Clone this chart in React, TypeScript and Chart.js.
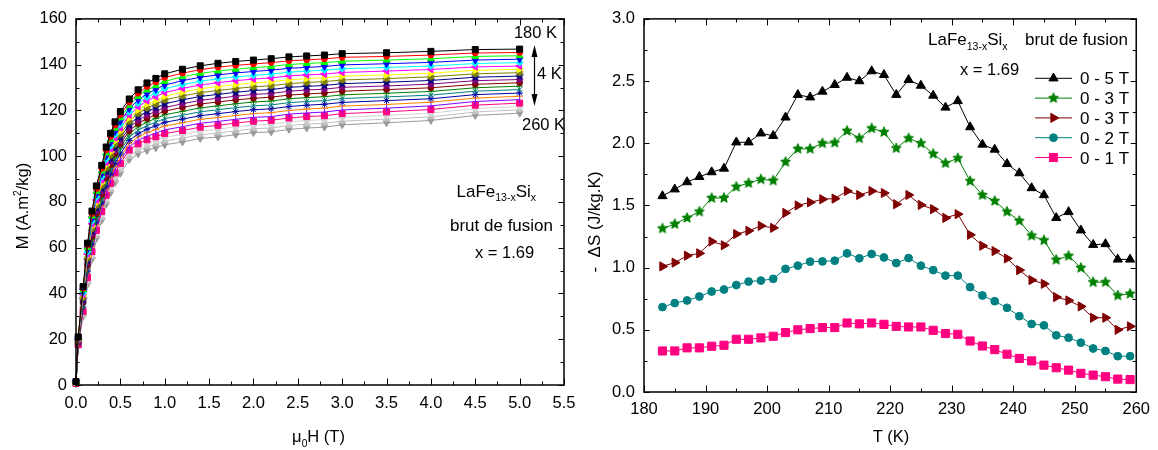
import React, { useEffect, useRef } from 'react';
import { Chart, registerables } from 'chart.js';

Chart.register(...registerables);

const FONT = '"Liberation Sans", Arial, Helvetica, sans-serif';
const FS = 16.5;
const FA = 17;

// ---------- Left panel: M(H) isotherms ----------
const FIELD_T = [0, 0.025, 0.08, 0.13, 0.18, 0.23, 0.29, 0.34, 0.39, 0.44, 0.5, 0.6, 0.7, 0.8, 0.9, 1.0, 1.2, 1.4, 1.6, 1.8, 2.0, 2.2, 2.4, 2.6, 2.8, 3.0, 3.5, 4.0, 4.5, 5.0];
const TEMPS_K = [180, 184, 188, 192, 196, 200, 204, 208, 212, 216, 220, 224, 228, 232, 236, 240, 244, 248, 252, 260];

const M_180 = [1.5, 21, 43, 62, 76, 87, 96, 104, 110, 115, 119.5, 125, 129, 132, 134, 136, 138, 139.5, 140.6, 141.4, 142, 142.6, 143.4, 143.8, 144.2, 144.8, 145.2, 145.8, 146.6, 146.8];
const M_184 = [1.4, 20.8, 42.3, 61.1, 74.9, 85.8, 94.7, 102.7, 108.6, 113.6, 118.1, 123.6, 127.5, 130.4, 132.4, 134.4, 136.3, 137.8, 138.9, 139.7, 140.3, 140.9, 141.7, 142.1, 142.5, 143.2, 143.6, 144.2, 145.1, 145.3];
const M_188 = [1.4, 20.6, 41.6, 60.1, 73.8, 84.6, 93.5, 101.4, 107.3, 112.2, 116.7, 122.2, 126.1, 128.9, 130.8, 132.7, 134.7, 136.2, 137.2, 138.0, 138.7, 139.2, 140.1, 140.5, 140.9, 141.5, 142.0, 142.6, 143.6, 143.9];
const M_192 = [1.3, 20.4, 41.0, 59.2, 72.7, 83.4, 92.2, 100.1, 105.9, 110.8, 115.2, 120.8, 124.6, 127.3, 129.2, 131.1, 133.0, 134.5, 135.5, 136.4, 137.0, 137.6, 138.4, 138.8, 139.2, 139.9, 140.4, 141.0, 142.0, 142.4];
const M_196 = [1.3, 20.2, 40.3, 58.2, 71.6, 82.2, 91.0, 98.7, 104.5, 109.4, 113.8, 119.4, 123.1, 125.8, 127.6, 129.5, 131.3, 132.8, 133.8, 134.7, 135.3, 135.9, 136.7, 137.2, 137.6, 138.2, 138.8, 139.4, 140.5, 140.9];
const M_200 = [1.2, 20.0, 39.6, 57.3, 70.5, 80.9, 89.7, 97.4, 103.2, 108.0, 112.4, 118.0, 121.6, 124.2, 126.0, 127.8, 129.6, 131.1, 132.1, 133.0, 133.7, 134.2, 135.1, 135.5, 135.9, 136.6, 137.2, 137.9, 139.0, 139.4];
const M_204 = [1.2, 19.7, 38.9, 56.3, 69.4, 79.7, 88.4, 96.1, 101.8, 106.6, 111.0, 116.6, 120.2, 122.7, 124.4, 126.2, 128.0, 129.5, 130.4, 131.3, 132.0, 132.5, 133.4, 133.9, 134.3, 135.0, 135.5, 136.3, 137.5, 138.0];
const M_208 = [1.1, 19.5, 38.2, 55.4, 68.3, 78.5, 87.2, 94.8, 100.4, 105.2, 109.6, 115.2, 118.7, 121.1, 122.8, 124.6, 126.3, 127.8, 128.7, 129.6, 130.3, 130.8, 131.7, 132.2, 132.6, 133.3, 133.9, 134.7, 136.0, 136.5];
const M_212 = [1.1, 19.3, 37.5, 54.4, 67.2, 77.3, 85.9, 93.5, 99.1, 103.8, 108.1, 113.8, 117.2, 119.6, 121.2, 122.9, 124.6, 126.1, 127.0, 127.9, 128.7, 129.1, 130.1, 130.5, 130.9, 131.7, 132.3, 133.1, 134.5, 135.0];
const M_216 = [1.0, 19.1, 36.8, 53.5, 66.1, 76.1, 84.6, 92.2, 97.7, 102.4, 106.7, 112.4, 115.7, 118.0, 119.6, 121.3, 122.9, 124.4, 125.3, 126.2, 127.0, 127.4, 128.4, 128.9, 129.3, 130.1, 130.7, 131.5, 133.0, 133.5];
const M_220 = [1.0, 18.9, 36.2, 52.5, 65.0, 74.9, 83.4, 90.8, 96.3, 101.1, 105.3, 111.1, 114.3, 116.5, 118.1, 119.7, 121.3, 122.8, 123.7, 124.6, 125.3, 125.8, 126.7, 127.2, 127.6, 128.4, 129.1, 129.9, 131.4, 132.1];
const M_224 = [0.9, 18.7, 35.5, 51.6, 63.8, 73.7, 82.1, 89.5, 95.0, 99.7, 103.9, 109.7, 112.8, 114.9, 116.5, 118.1, 119.6, 121.1, 122.0, 122.9, 123.7, 124.1, 125.1, 125.6, 126.0, 126.8, 127.5, 128.3, 129.9, 130.6];
const M_228 = [0.9, 18.5, 34.8, 50.6, 62.7, 72.5, 80.8, 88.2, 93.6, 98.3, 102.5, 108.3, 111.3, 113.4, 114.9, 116.4, 117.9, 119.4, 120.3, 121.2, 122.0, 122.4, 123.4, 123.9, 124.3, 125.2, 125.9, 126.7, 128.4, 129.1];
const M_232 = [0.8, 18.3, 34.1, 49.7, 61.6, 71.3, 79.6, 86.9, 92.2, 96.9, 101.0, 106.9, 109.8, 111.8, 113.3, 114.8, 116.2, 117.7, 118.6, 119.5, 120.3, 120.7, 121.7, 122.3, 122.7, 123.5, 124.3, 125.1, 126.9, 127.6];
const M_236 = [0.8, 18.1, 33.4, 48.7, 60.5, 70.1, 78.3, 85.6, 90.8, 95.5, 99.6, 105.5, 108.4, 110.3, 111.7, 113.2, 114.6, 116.1, 116.9, 117.8, 118.6, 119.0, 120.0, 120.6, 121.0, 121.9, 122.6, 123.6, 125.4, 126.2];
const M_240 = [0.7, 17.9, 32.7, 47.8, 59.4, 68.9, 77.1, 84.3, 89.5, 94.1, 98.2, 104.1, 106.9, 108.7, 110.1, 111.5, 112.9, 114.4, 115.2, 116.1, 117.0, 117.3, 118.4, 118.9, 119.3, 120.2, 121.0, 122.0, 123.9, 124.7];
const M_244 = [0.7, 17.6, 32.1, 46.9, 58.3, 67.6, 75.8, 82.9, 88.1, 92.7, 96.8, 102.7, 105.4, 107.2, 108.5, 109.9, 111.2, 112.7, 113.5, 114.5, 115.3, 115.7, 116.7, 117.3, 117.7, 118.6, 119.4, 120.4, 122.3, 123.2];
const M_248 = [0.6, 17.4, 31.4, 45.9, 57.2, 66.4, 74.5, 81.6, 86.7, 91.3, 95.3, 101.3, 103.9, 105.6, 106.9, 108.3, 109.5, 111.0, 111.8, 112.8, 113.6, 114.0, 115.0, 115.6, 116.0, 117.0, 117.8, 118.8, 120.8, 121.7];
const M_252 = [0.6, 17.2, 30.7, 45.0, 56.1, 65.2, 73.3, 80.3, 85.4, 89.9, 93.9, 99.9, 102.5, 104.1, 105.3, 106.6, 107.9, 109.4, 110.1, 111.1, 112.0, 112.3, 113.4, 114.0, 114.4, 115.3, 116.2, 117.2, 119.3, 120.3];
const M_260 = [0.5, 17, 30, 44, 55, 64, 72, 79, 84, 88.5, 92.5, 98.5, 101, 102.5, 103.7, 105, 106.2, 107.7, 108.4, 109.4, 110.3, 110.6, 111.7, 112.3, 112.7, 113.7, 114.6, 115.6, 117.8, 118.8];

const M_SERIES = [M_180, M_184, M_188, M_192, M_196, M_200, M_204, M_208, M_212, M_216, M_220, M_224, M_228, M_232, M_236, M_240, M_244, M_248, M_252, M_260];
const LEFT_COLORS = ['#000000', '#FF0000', '#00FF00', '#0000FF', '#00FFFF', '#FF00FF', '#FFFF00', '#808000', '#000080', '#800080', '#800000', '#008000', '#008080', '#0000A0', '#FF8000', '#8000FF', '#FF0080', '#D4D4D4', '#C0C0C0', '#999999'];
const LEFT_SHAPES = ['rect', 'circle', 'triangle', 'triDown', 'rectRot', 'triLeft', 'triRight', 'hexagon', 'star5', 'pentagon', 'circle', 'cross', 'crossRot', 'star', 'line', 'vline', 'rect', 'circle', 'triangle', 'triDown'];

// ---------- Right panel: -ΔS(T) ----------
const T_K = [183, 185, 187, 189, 191, 193, 195, 197, 199, 201, 203, 205, 207, 209, 211, 213, 215, 217, 219, 221, 223, 225, 227, 229, 231, 233, 235, 237, 239, 241, 243, 245, 247, 249, 251, 253, 255, 257, 259];
const DS_0_5T = [1.576, 1.63, 1.688, 1.73, 1.768, 1.797, 2.008, 2.008, 2.08, 2.06, 2.208, 2.39, 2.37, 2.416, 2.47, 2.528, 2.5, 2.58, 2.55, 2.39, 2.51, 2.464, 2.384, 2.288, 2.34, 2.13, 1.99, 1.95, 1.834, 1.76, 1.64, 1.584, 1.4, 1.448, 1.3, 1.184, 1.19, 1.066, 1.066];
const DS_0_3T_A = [1.315, 1.35, 1.4, 1.45, 1.56, 1.56, 1.65, 1.68, 1.71, 1.7, 1.85, 1.955, 1.955, 2.0, 2.005, 2.1, 2.04, 2.12, 2.09, 1.96, 2.04, 2.0, 1.915, 1.84, 1.88, 1.696, 1.584, 1.536, 1.45, 1.376, 1.257, 1.22, 1.063, 1.095, 0.998, 0.883, 0.883, 0.776, 0.79];
const DS_0_3T_B = [1.01, 1.04, 1.096, 1.115, 1.21, 1.18, 1.27, 1.296, 1.336, 1.32, 1.44, 1.5, 1.525, 1.55, 1.555, 1.616, 1.584, 1.616, 1.6, 1.51, 1.584, 1.504, 1.47, 1.4, 1.43, 1.264, 1.176, 1.133, 1.074, 0.98, 0.9, 0.87, 0.763, 0.736, 0.688, 0.597, 0.597, 0.5, 0.528];
const DS_0_2T = [0.683, 0.715, 0.736, 0.768, 0.808, 0.824, 0.86, 0.888, 0.896, 0.91, 0.99, 1.016, 1.048, 1.05, 1.056, 1.115, 1.075, 1.11, 1.082, 1.037, 1.077, 1.016, 0.98, 0.936, 0.936, 0.843, 0.776, 0.73, 0.677, 0.61, 0.547, 0.536, 0.456, 0.437, 0.397, 0.35, 0.33, 0.288, 0.288];
const DS_0_1T = [0.33, 0.33, 0.355, 0.355, 0.368, 0.376, 0.424, 0.424, 0.435, 0.448, 0.478, 0.5, 0.51, 0.518, 0.518, 0.555, 0.548, 0.555, 0.544, 0.528, 0.523, 0.523, 0.496, 0.47, 0.464, 0.41, 0.37, 0.341, 0.304, 0.27, 0.25, 0.216, 0.195, 0.176, 0.15, 0.136, 0.123, 0.104, 0.1];
const RIGHT_LABELS = ['0 - 5 T', '0 - 3 T', '0 - 3 T', '0 - 2 T', '0 - 1 T'];
const RIGHT_SERIES = [DS_0_5T, DS_0_3T_A, DS_0_3T_B, DS_0_2T, DS_0_1T];
const RIGHT_COLORS = ['#000000', '#008000', '#800000', '#008080', '#FF0080'];
const RIGHT_SHAPES = ['triangle', 'star5', 'triRight', 'circle', 'rect'];

// ---------- helpers ----------
function polyCanvas(kind: string, color: string, r: number) {
  const size = Math.ceil(r * 2 + 3);
  const c = document.createElement('canvas');
  c.width = size;
  c.height = size;
  const g = c.getContext('2d')!;
  const cx = size / 2, cy = size / 2;
  g.fillStyle = color;
  g.strokeStyle = color;
  g.lineWidth = 1;
  g.beginPath();
  if (kind === 'star5') {
    for (let i = 0; i < 10; i++) {
      const a = -Math.PI / 2 + (i * Math.PI) / 5;
      const rr = i % 2 === 0 ? r : r * 0.45;
      const px = cx + rr * Math.cos(a), py = cy + rr * Math.sin(a);
      if (i === 0) g.moveTo(px, py); else g.lineTo(px, py);
    }
  } else {
    const n = kind === 'pentagon' ? 5 : 6;
    for (let i = 0; i < n; i++) {
      const a = -Math.PI / 2 + (i * 2 * Math.PI) / n;
      const px = cx + r * Math.cos(a), py = cy + r * Math.sin(a);
      if (i === 0) g.moveTo(px, py); else g.lineTo(px, py);
    }
  }
  g.closePath();
  g.fill();
  g.stroke();
  return c;
}

function pointOpts(shape: string, color: string, base: number) {
  let pointStyle: any = shape;
  let rotation = 0;
  let radius = base;
  if (shape === 'triDown') { pointStyle = 'triangle'; rotation = 180; radius = base * 1.15; }
  else if (shape === 'triLeft') { pointStyle = 'triangle'; rotation = 270; radius = base * 1.15; }
  else if (shape === 'triRight') { pointStyle = 'triangle'; rotation = 90; radius = base * 1.15; }
  else if (shape === 'triangle') { radius = base * 1.15; }
  else if (shape === 'vline') { pointStyle = 'line'; rotation = 90; }
  else if (shape === 'rect') { radius = base * 1.25; }
  else if (shape === 'circle') { radius = base * 0.85; }
  else if (shape === 'star5' || shape === 'pentagon' || shape === 'hexagon') {
    pointStyle = polyCanvas(shape, color, shape === 'star5' ? base * 1.15 : base * 0.95);
  }
  return { pointStyle, pointRotation: rotation, pointRadius: radius };
}

type Seg = { t: string; sub?: boolean; sup?: boolean };
function drawRich(ctx: CanvasRenderingContext2D, segs: Seg[], x: number, y: number, size: number, align: string) {
  const widths = segs.map((s) => {
    ctx.font = `${s.sub || s.sup ? size * 0.62 : size}px ${FONT}`;
    return ctx.measureText(s.t).width;
  });
  const total = widths.reduce((a, b) => a + b, 0);
  let cx = align === 'left' ? x : align === 'center' ? x - total / 2 : x - total;
  ctx.textAlign = 'left';
  ctx.textBaseline = 'alphabetic';
  segs.forEach((s, i) => {
    ctx.font = `${s.sub || s.sup ? size * 0.62 : size}px ${FONT}`;
    const dy = s.sub ? size * 0.28 : s.sup ? -size * 0.42 : 0;
    ctx.fillText(s.t, cx, y + dy);
    cx += widths[i];
  });
}

function framePlugin(xStep: number, xMinor: number, yStep: number, yMinor: number) {
  return {
    id: 'frame',
    afterDraw(chart: any) {
      const { ctx, chartArea: a, scales } = chart;
      const xs = scales.x, ys = scales.y;
      ctx.save();
      ctx.strokeStyle = '#000';
      ctx.lineWidth = 1;
      const nx = Math.round((xs.max - xs.min) / xMinor);
      const kx = Math.round(xStep / xMinor);
      for (let i = 0; i <= nx; i++) {
        const px = Math.round(xs.getPixelForValue(xs.min + i * xMinor)) + 0.5;
        const len = i % kx === 0 ? 6.5 : 3.5;
        ctx.beginPath();
        ctx.moveTo(px, a.bottom);
        ctx.lineTo(px, a.bottom - len);
        ctx.moveTo(px, a.top);
        ctx.lineTo(px, a.top + len);
        ctx.stroke();
      }
      const ny = Math.round((ys.max - ys.min) / yMinor);
      const ky = Math.round(yStep / yMinor);
      for (let i = 0; i <= ny; i++) {
        const py = Math.round(ys.getPixelForValue(ys.min + i * yMinor)) + 0.5;
        const len = i % ky === 0 ? 5.5 : 3.5;
        ctx.beginPath();
        ctx.moveTo(a.left, py);
        ctx.lineTo(a.left + len, py);
        ctx.moveTo(a.right, py);
        ctx.lineTo(a.right - len, py);
        ctx.stroke();
      }
      ctx.lineWidth = 1.5;
      ctx.strokeRect(a.left, a.top, a.right - a.left, a.bottom - a.top);
      ctx.restore();
    },
  };
}

const leftText = {
  id: 'leftText',
  afterDraw(chart: any) {
    const ctx = chart.ctx as CanvasRenderingContext2D;
    ctx.save();
    ctx.fillStyle = '#000';
    ctx.save();
    ctx.translate(27.5, 206);
    ctx.rotate(-Math.PI / 2);
    drawRich(ctx, [{ t: 'M (A.m' }, { t: '2', sup: true }, { t: '/kg)' }], 0, 0, FS, 'center');
    ctx.restore();
    drawRich(ctx, [{ t: 'μ' }, { t: '0', sub: true }, { t: 'H (T)' }], 318.5, 442, FS, 'center');
    drawRich(ctx, [{ t: '180 K' }], 557, 37.5, FS, 'right');
    drawRich(ctx, [{ t: '4 K' }], 537, 78.5, FS, 'left');
    drawRich(ctx, [{ t: '260 K' }], 522, 130, FS, 'left');
    drawRich(ctx, [{ t: 'LaFe' }, { t: '13-x', sub: true }, { t: 'Si' }, { t: 'x', sub: true }], 456.5, 196.5, FA, 'left');
    drawRich(ctx, [{ t: 'brut de fusion' }], 450, 230.5, FA, 'left');
    drawRich(ctx, [{ t: 'x = 1.69' }], 475, 258, FS, 'left');
    // double arrow
    ctx.strokeStyle = '#000';
    ctx.lineWidth = 1.2;
    ctx.beginPath();
    ctx.moveTo(534.5, 52);
    ctx.lineTo(534.5, 99);
    ctx.stroke();
    ctx.beginPath();
    ctx.moveTo(534.5, 45);
    ctx.lineTo(531.5, 57);
    ctx.lineTo(537.5, 57);
    ctx.closePath();
    ctx.fill();
    ctx.beginPath();
    ctx.moveTo(534.5, 106);
    ctx.lineTo(531.5, 94);
    ctx.lineTo(537.5, 94);
    ctx.closePath();
    ctx.fill();
    ctx.restore();
  },
};

function drawMarker(ctx: CanvasRenderingContext2D, ds: any, x: number, y: number) {
  const st = ds.pointStyle;
  const r = ds.pointRadius;
  ctx.save();
  ctx.fillStyle = ds.backgroundColor;
  ctx.strokeStyle = ds.borderColor;
  ctx.lineWidth = 1;
  if (st instanceof HTMLCanvasElement) {
    ctx.drawImage(st, x - st.width / 2, y - st.height / 2);
  } else {
    ctx.translate(x, y);
    ctx.rotate(((ds.pointRotation || 0) * Math.PI) / 180);
    ctx.beginPath();
    if (st === 'triangle') {
      for (let i = 0; i < 3; i++) {
        const a = (i * 2 * Math.PI) / 3;
        const px = Math.sin(a) * r, py = -Math.cos(a) * r;
        if (i === 0) ctx.moveTo(px, py); else ctx.lineTo(px, py);
      }
      ctx.closePath();
    } else if (st === 'circle') {
      ctx.arc(0, 0, r, 0, Math.PI * 2);
    } else if (st === 'rect') {
      const s = r * Math.SQRT1_2;
      ctx.rect(-s, -s, 2 * s, 2 * s);
    }
    ctx.fill();
    ctx.stroke();
  }
  ctx.restore();
}

const rightText = {
  id: 'rightText',
  afterDraw(chart: any) {
    const ctx = chart.ctx as CanvasRenderingContext2D;
    const ox = 580; // canvas offset on the page
    ctx.save();
    ctx.fillStyle = '#000';
    ctx.save();
    ctx.translate(599.5 - ox, 222);
    ctx.rotate(-Math.PI / 2);
    drawRich(ctx, [{ t: '-  ΔS (J/kg.K)' }], 0, 0, FA, 'center');
    ctx.restore();
    drawRich(ctx, [{ t: 'T (K)' }], 891 - ox, 442, FS, 'center');
    drawRich(ctx, [{ t: 'LaFe' }, { t: '13-x', sub: true }, { t: 'Si' }, { t: 'x', sub: true }], 928 - ox, 45, FA, 'left');
    drawRich(ctx, [{ t: 'brut de fusion' }], 1025 - ox, 45, FA, 'left');
    drawRich(ctx, [{ t: 'x = 1.69' }], 960 - ox, 75, FS, 'left');
    // legend
    const rows = [78.3, 98.1, 117.9, 137.7, 157.5];
    chart.data.datasets.forEach((ds: any, i: number) => {
      const y = rows[i];
      ctx.strokeStyle = ds.borderColor;
      ctx.lineWidth = 1;
      ctx.beginPath();
      ctx.moveTo(1035 - ox, y);
      ctx.lineTo(1072 - ox, y);
      ctx.stroke();
      drawMarker(ctx, ds, 1053.5 - ox, y);
      ctx.fillStyle = '#000';
      drawRich(ctx, [{ t: ds.label }], 1080 - ox, y + FA * 0.36, FA, 'left');
    });
    ctx.restore();
  },
};

function tickFont() {
  return { family: FONT, size: FS };
}

export default function App() {
  const leftRef = useRef<HTMLCanvasElement>(null);
  const rightRef = useRef<HTMLCanvasElement>(null);

  useEffect(() => {
    const leftDatasets = M_SERIES.map((arr, i) => {
      const p = pointOpts(LEFT_SHAPES[i], LEFT_COLORS[i], 3.4);
      return {
        label: `${TEMPS_K[i]} K`,
        data: FIELD_T.map((h, k) => ({ x: h, y: arr[k] })),
        borderColor: LEFT_COLORS[i],
        backgroundColor: LEFT_COLORS[i],
        borderWidth: 1,
        pointBorderWidth: 1,
        ...p,
        tension: 0,
        clip: false as any,
      };
    });

    const left = new Chart(leftRef.current!, {
      type: 'line',
      data: { datasets: leftDatasets as any },
      options: {
        responsive: false,
        animation: false,
        events: [],
        layout: { padding: { top: 16, right: 36, left: 0, bottom: 0 } },
        plugins: { legend: { display: false }, tooltip: { enabled: false } },
        scales: {
          x: {
            type: 'linear',
            min: 0,
            max: 5.5,
            grid: { display: false, drawTicks: false },
            border: { display: false },
            ticks: {
              stepSize: 0.5,
              autoSkip: false,
              maxRotation: 0,
              padding: 9,
              color: '#000',
              font: tickFont(),
              callback: (v: any) => Number(v).toFixed(1),
            },
            afterFit: (s: any) => { s.height = 65; },
          },
          y: {
            type: 'linear',
            min: 0,
            max: 160,
            grid: { display: false, drawTicks: false },
            border: { display: false },
            ticks: { stepSize: 20, padding: 9, color: '#000', font: tickFont() },
            afterFit: (s: any) => { s.width = 76; },
          },
        },
      },
      plugins: [framePlugin(0.5, 0.25, 20, 10), leftText],
    });

    const rightDatasets = RIGHT_SERIES.map((arr, i) => {
      const p = pointOpts(RIGHT_SHAPES[i], RIGHT_COLORS[i], 4.6);
      return {
        label: RIGHT_LABELS[i],
        data: T_K.map((t, k) => ({ x: t, y: arr[k] })),
        borderColor: RIGHT_COLORS[i],
        backgroundColor: RIGHT_COLORS[i],
        borderWidth: 1,
        pointBorderWidth: 1,
        ...p,
        tension: 0,
      };
    });

    const right = new Chart(rightRef.current!, {
      type: 'line',
      data: { datasets: rightDatasets as any },
      options: {
        responsive: false,
        animation: false,
        events: [],
        layout: { padding: { top: 17, right: 20, left: 0, bottom: 0 } },
        plugins: { legend: { display: false }, tooltip: { enabled: false } },
        scales: {
          x: {
            type: 'linear',
            min: 180,
            max: 260,
            grid: { display: false, drawTicks: false },
            border: { display: false },
            ticks: { stepSize: 10, autoSkip: false, maxRotation: 0, padding: 8, color: '#000', font: tickFont() },
            afterFit: (s: any) => { s.height = 58; },
          },
          y: {
            type: 'linear',
            min: 0,
            max: 3,
            grid: { display: false, drawTicks: false },
            border: { display: false },
            ticks: {
              stepSize: 0.5,
              padding: 9,
              color: '#000',
              font: tickFont(),
              callback: (v: any) => Number(v).toFixed(1),
            },
            afterFit: (s: any) => { s.width = 64; },
          },
        },
      },
      plugins: [framePlugin(10, 5, 0.5, 0.25), rightText],
    });

    return () => {
      left.destroy();
      right.destroy();
    };
  }, []);

  return (
    <div style={{ position: 'absolute', left: 0, top: 0, width: 1158, height: 450, background: '#fff' }}>
      <canvas ref={leftRef} width={600} height={450} style={{ position: 'absolute', left: 0, top: 0, width: 600, height: 450 }} />
      <canvas ref={rightRef} width={578} height={450} style={{ position: 'absolute', left: 580, top: 0, width: 578, height: 450 }} />
    </div>
  );
}
